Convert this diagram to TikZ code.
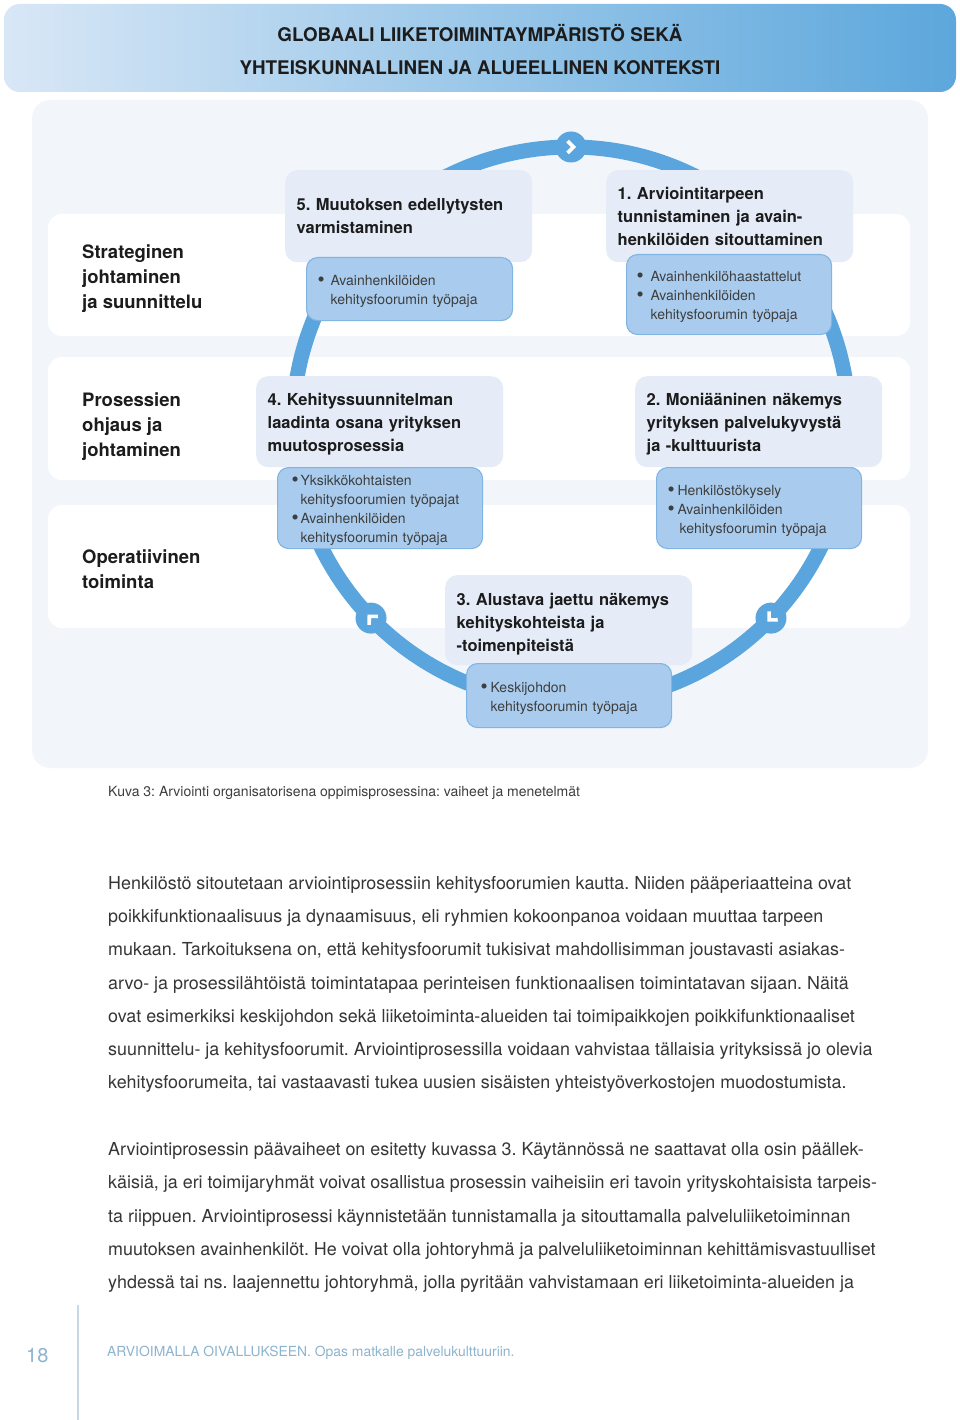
\documentclass[tikz,border=0pt]{standalone}
\usepackage{fontspec}
\setmainfont{TeX Gyre Heros}
\usetikzlibrary{calc}
\frenchspacing
\definecolor{ink}{HTML}{1C1C1C}
\definecolor{body}{HTML}{363636}
\definecolor{ring}{HTML}{5AA5DD}
\definecolor{panel}{HTML}{F2F6FB}
\definecolor{stage}{HTML}{E5ECF8}
\definecolor{subfill}{HTML}{A9CCEE}
\definecolor{subline}{HTML}{80B4E3}
\definecolor{bandL}{HTML}{D8E7F6}
\definecolor{bandR}{HTML}{5CA7DC}
\definecolor{foot}{HTML}{8DB4CE}
\definecolor{footline}{HTML}{C8D8E4}
\newcommand{\bul}[1]{\makebox[#1][l]{\raisebox{-0.1em}{\scalebox{1.45}{\textbullet}}}}
\tikzset{
  band/.style  = {rounded corners=16pt, left color=bandL, right color=bandR, draw=none,
                  minimum width=952pt, minimum height=88pt, inner sep=0pt},
  head/.style  = {align=center, text=ink, inner sep=0pt, font=\bfseries\fontsize{18.8}{33}\selectfont},
  rowlab/.style= {align=left, text=ink, inner sep=0pt, font=\bfseries\fontsize{18.5}{25}\selectfont},
  stg/.style   = {rounded corners=12pt, fill=stage, align=left, text=ink, inner xsep=11.5pt,
                  inner ysep=0pt, text width=224pt, font=\bfseries\fontsize{16.5}{23}\selectfont},
  mth/.style   = {rounded corners=11pt, fill=subfill, draw=subline, line width=1.1pt, align=left,
                  text=ink!85, inner ysep=0pt, font=\fontsize{14}{19}\selectfont, txtdrop=15.1pt},
  txtdrop/.style = {execute at begin node={\rule{0pt}{#1}}},
  ringline/.style = {draw=ring, line width=15pt},
  chev/.style  = {draw=white, line width=3.6pt, miter limit=4},
  capt/.style  = {anchor=west, text=ink!85, inner sep=0pt, font=\fontsize{14}{16}\selectfont},
  txt/.style   = {anchor=west, align=left, text=body, inner sep=0pt, font=\fontsize{17.9}{33.2}\selectfont},
  footer/.style= {anchor=west, text=foot, inner sep=0pt},
}
\begin{document}
\begin{tikzpicture}[x=1pt, y=1pt]
  \useasboundingbox (0,0) rectangle (960,-1420);
  \fill[white] (0,0) rectangle (960,-1420);

  % ---------------- banner ----------------
  \node[band] (band) at (480,-48) {};
  \node[head] (head) at (480,-49.5) {GLOBAALI LIIKETOIMINTAYMPÄRISTÖ SEKÄ\\YHTEISKUNNALLINEN JA ALUEELLINEN KONTEKSTI};

  % ---------------- panel and levels ----------------
  \fill[panel, rounded corners=18pt] (32,-100) rectangle (928,-768);
  \fill[white, rounded corners=14pt] (48,-214) rectangle (910,-336);
  \fill[white, rounded corners=14pt] (48,-357) rectangle (910,-480);
  \fill[white, rounded corners=14pt] (48,-505) rectangle (910,-628);
  \node[rowlab, anchor=west] (lvl1) at (82,-279) {Strateginen\\johtaminen\\ja suunnittelu};
  \node[rowlab, anchor=west] (lvl2) at (82,-427) {Prosessien\\ohjaus ja\\johtaminen};
  \node[rowlab, anchor=west] (lvl3) at (82,-569) {Operatiivinen\\toiminta};

  % ---------------- cycle ----------------
  \coordinate (ctr) at (571,-425);
  \draw[ringline] (ctr) circle[radius=278];
  \foreach \a/\d in {90/0, 224/134, 316/226}{
    \path (ctr) ++(\a:278) coordinate (mk);
    \fill[ring] (mk) circle[radius=15.5];
    \begin{scope}[shift={(mk)}, rotate=\d]
      \draw[chev] (-3.5,6) -- (2.5,0) -- (-3.5,-6);
    \end{scope}
  }

  % ---------------- stages ----------------
  \node[stg, anchor=north west, minimum height=92pt] (s5) at (285,-170) {5. Muutoksen edellytysten\\varmistaminen};
  \node[mth, anchor=north west, minimum height=63pt, inner xsep=11pt, text width=184pt] (m5) at (306,-257)
       {\bul{13pt}Avainhenkilöiden\\\hspace*{13pt}kehitysfoorumin työpaja};

  \node[stg, anchor=north west, minimum height=92pt] (s1) at (606,-170) {1. Arviointitarpeen\\tunnistaminen ja avain-\\henkilöiden sitouttaminen};
  \node[mth, anchor=north west, minimum height=80pt, inner xsep=10pt, text width=185pt] (m1) at (626,-254)
       {\bul{14pt}Avainhenkilöhaastattelut\\\bul{14pt}Avainhenkilöiden\\\hspace*{14pt}kehitysfoorumin työpaja};

  \node[stg, anchor=north west, minimum height=91pt, txtdrop=17.9pt] (s4) at (256,-376) {4. Kehityssuunnitelman\\laadinta osana yrityksen\\muutosprosessia};
  \node[mth, anchor=north west, minimum height=81pt, inner xsep=14pt, text width=177pt] (m4) at (277,-467)
       {\bul{9pt}Yksikkökohtaisten\\\hspace*{9pt}kehitysfoorumien työpajat\\\bul{9pt}Avainhenkilöiden\\\hspace*{9pt}kehitysfoorumin työpaja};

  \node[stg, anchor=north west, minimum height=91pt, txtdrop=17.9pt] (s2) at (635,-376) {2. Moniääninen näkemys\\yrityksen palvelukyvystä\\ja -kulttuurista};
  \node[mth, anchor=north west, minimum height=81pt, inner xsep=11pt, text width=183pt] (m2) at (656,-467)
       {\bul{10pt}Henkilöstökysely\\\bul{10pt}Avainhenkilöiden\\\hspace*{12pt}kehitysfoorumin työpaja};

  \node[stg, anchor=north west, minimum height=90pt, txtdrop=19.9pt] (s3) at (445,-575) {3. Alustava jaettu näkemys\\kehityskohteista ja\\-toimenpiteistä};
  \node[mth, anchor=north west, minimum height=64pt, inner xsep=14pt, text width=177pt] (m3) at (466,-663)
       {\bul{10pt}Keskijohdon\\\hspace*{10pt}kehitysfoorumin työpaja};

  % ---------------- caption and text ----------------
  \node[capt] (kuva) at (108,-793) {Kuva 3: Arviointi organisatorisena oppimisprosessina: vaiheet ja menetelmät};
  \node[txt] (p1) at (108,-984.5) {Henkilöstö sitoutetaan arviointiprosessiin kehitysfoorumien kautta. Niiden pääperiaatteina ovat\\
    poikkifunktionaalisuus ja dynaamisuus, eli ryhmien kokoonpanoa voidaan muuttaa tarpeen\\
    mukaan. Tarkoituksena on, että kehitysfoorumit tukisivat mahdollisimman joustavasti asiakas-\\
    arvo- ja prosessilähtöistä toimintatapaa perinteisen funktionaalisen toimintatavan sijaan. Näitä\\
    ovat esimerkiksi keskijohdon sekä liiketoiminta-alueiden tai toimipaikkojen poikkifunktionaaliset\\
    suunnittelu- ja kehitysfoorumit. Arviointiprosessilla voidaan vahvistaa tällaisia yrityksissä jo olevia\\
    kehitysfoorumeita, tai vastaavasti tukea uusien sisäisten yhteistyöverkostojen muodostumista.};
  \node[txt] (p2) at (108,-1217.5) {Arviointiprosessin päävaiheet on esitetty kuvassa 3. Käytännössä ne saattavat olla osin päällek-\\
    käisiä, ja eri toimijaryhmät voivat osallistua prosessin vaiheisiin eri tavoin yrityskohtaisista tarpeis-\\
    ta riippuen. Arviointiprosessi käynnistetään tunnistamalla ja sitouttamalla palveluliiketoiminnan\\
    muutoksen avainhenkilöt. He voivat olla johtoryhmä ja palveluliiketoiminnan kehittämisvastuulliset\\
    yhdessä tai ns. laajennettu johtoryhmä, jolla pyritään vahvistamaan eri liiketoiminta-alueiden ja};

  % ---------------- footer ----------------
  \coordinate (ft) at (78,-1305);
  \coordinate (fb) at (78,-1420);
  \draw[footline, line width=1.3pt] (ft) -- (fb);
  \node[footer, font=\fontsize{20}{24}\selectfont] (pg) at (26,-1356) {18};
  \node[footer, font=\fontsize{13.9}{16}\selectfont] (src) at (107,-1353) {ARVIOIMALLA OIVALLUKSEEN. Opas matkalle palvelukulttuuriin.};
\end{tikzpicture}
\end{document}
